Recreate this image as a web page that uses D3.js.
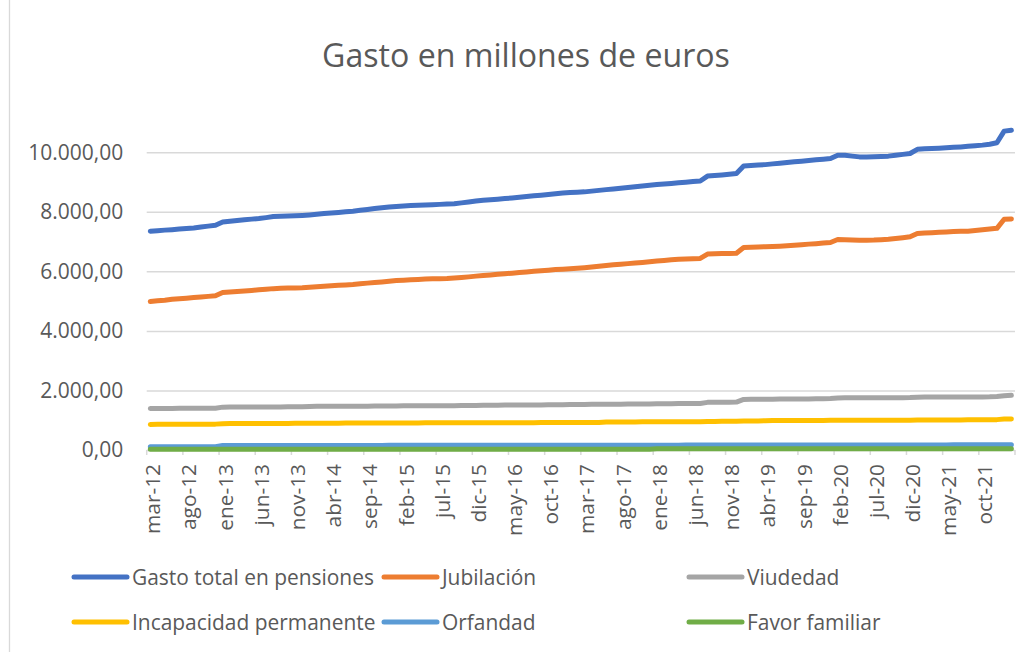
<!DOCTYPE html>
<html>
<head>
<meta charset="utf-8">
<script src="https://cdn.jsdelivr.net/npm/d3@7"></script>
<style>
  body { margin: 0; background: #fff; }
  text { font-family: "Open Sans", sans-serif; fill: #595959; }
</style>
</head>
<body>
<script>
// month names and categories (mar-12 .. feb-22)
const meses = ["ene", "feb", "mar", "abr", "may", "jun", "jul", "ago", "sep", "oct", "nov", "dic"];
const categorias = [];
for (let k = 2; k < 122; k++) categorias.push(meses[k % 12] + "-" + (12 + Math.floor(k / 12)));

const yTicks = [0, 2000, 4000, 6000, 8000, 10000];

// monthly spend, millions of euros (rows: 2012 from mar, then 2013..2021, then 2022)
const gastoTotal = [
  7350, 7365, 7385, 7400, 7420, 7440, 7460, 7490, 7520, 7550,
  7660, 7685, 7710, 7730, 7755, 7775, 7805, 7840, 7850, 7860, 7870, 7880,
  7895, 7915, 7940, 7960, 7980, 8000, 8020, 8050, 8080, 8110, 8140, 8160,
  8180, 8195, 8210, 8220, 8230, 8240, 8250, 8260, 8270, 8300, 8330, 8360,
  8385, 8405, 8425, 8445, 8465, 8490, 8515, 8540, 8560, 8585, 8610, 8630,
  8645, 8655, 8670, 8695, 8720, 8745, 8770, 8795, 8820, 8845, 8870, 8890,
  8915, 8935, 8955, 8975, 8995, 9015, 9035, 9200, 9220, 9240, 9260, 9285,
  9540, 9555, 9570, 9585, 9610, 9630, 9655, 9680, 9700, 9725, 9745, 9765,
  9790, 9900, 9900, 9870, 9845, 9845, 9850, 9860, 9870, 9900, 9930, 9960,
  10100, 10115, 10125, 10135, 10150, 10165, 10180, 10200, 10220, 10240, 10270, 10320,
  10710, 10740
];
const jubilacion = [
  4990, 5010, 5030, 5060, 5080, 5100, 5120, 5140, 5160, 5180,
  5290, 5310, 5325, 5340, 5360, 5380, 5400, 5420, 5430, 5440, 5445, 5450,
  5465, 5480, 5500, 5515, 5530, 5545, 5560, 5585, 5605, 5625, 5645, 5670,
  5690, 5705, 5720, 5730, 5740, 5750, 5755, 5760, 5775, 5795, 5815, 5840,
  5860, 5880, 5900, 5920, 5940, 5960, 5980, 6000, 6020, 6040, 6060, 6075,
  6090, 6105, 6125, 6150, 6175, 6200, 6220, 6240, 6260, 6280, 6300, 6320,
  6345, 6365, 6390, 6405, 6415, 6425, 6435, 6580, 6590, 6600, 6600, 6610,
  6800, 6810, 6820, 6825, 6835, 6845, 6860, 6875, 6895, 6915, 6930, 6950,
  6970, 7070, 7065, 7055, 7045, 7045, 7050, 7065, 7080, 7105, 7130, 7160,
  7270, 7285, 7300, 7315, 7325, 7335, 7345, 7350, 7370, 7395, 7420, 7445,
  7750, 7760
];
const viudedad = [
  1395, 1396, 1397, 1398, 1399, 1400, 1401, 1402, 1403, 1405,
  1440, 1441, 1442, 1443, 1444, 1445, 1446, 1447, 1448, 1449, 1450, 1451,
  1465, 1466, 1467, 1468, 1469, 1470, 1471, 1472, 1473, 1474, 1475, 1476,
  1482, 1483, 1484, 1485, 1486, 1487, 1488, 1489, 1490, 1492, 1494, 1496,
  1505, 1506, 1507, 1508, 1509, 1510, 1511, 1512, 1514, 1516, 1518, 1520,
  1530, 1531, 1532, 1533, 1535, 1537, 1539, 1540, 1541, 1542, 1543, 1545,
  1555, 1556, 1557, 1558, 1560, 1562, 1565, 1600, 1602, 1604, 1606, 1610,
  1700, 1702, 1704, 1706, 1708, 1710, 1712, 1714, 1715, 1716, 1718, 1720,
  1730, 1750, 1751, 1752, 1753, 1754, 1755, 1756, 1757, 1758, 1759, 1760,
  1775, 1776, 1777, 1778, 1779, 1780, 1781, 1782, 1783, 1784, 1785, 1795,
  1820, 1835
];
const incapacidad = [
  860, 861, 862, 863, 864, 865, 866, 867, 868, 869,
  885, 886, 887, 888, 889, 890, 891, 892, 893, 894, 895, 896,
  898, 899, 900, 901, 902, 903, 904, 905, 906, 907, 908, 909,
  910, 910, 911, 911, 912, 912, 913, 913, 914, 914, 915, 915,
  916, 916, 917, 917, 918, 918, 919, 919, 920, 920, 921, 921,
  922, 923, 924, 925, 926, 940, 941, 942, 943, 944, 945, 945,
  946, 946, 947, 947, 948, 949, 950, 960, 961, 962, 962, 963,
  975, 977, 978, 980, 990, 991, 992, 992, 993, 993, 994, 995,
  996, 998, 998, 998, 999, 999, 1000, 1000, 1001, 1001, 1002, 1002,
  1005, 1006, 1007, 1008, 1009, 1010, 1011, 1012, 1013, 1014, 1015, 1020,
  1040, 1045
];
const orfandad = [
  108, 108, 109, 109, 110, 110, 111, 111, 112, 112,
  148, 148, 149, 149, 150, 150, 150, 151, 151, 151, 152, 152,
  153, 153, 153, 154, 154, 154, 154, 155, 155, 155, 155, 156,
  156, 156, 156, 157, 157, 157, 157, 158, 158, 158, 158, 158,
  159, 159, 159, 159, 159, 160, 160, 160, 160, 160, 160, 161,
  161, 161, 161, 161, 162, 162, 162, 162, 162, 162, 163, 163,
  163, 163, 163, 163, 164, 164, 164, 165, 165, 165, 165, 165,
  167, 167, 167, 167, 167, 168, 168, 168, 168, 168, 168, 168,
  169, 170, 170, 170, 170, 170, 170, 170, 171, 171, 171, 171,
  172, 172, 172, 172, 172, 173, 173, 173, 173, 173, 173, 174,
  176, 176
];
const favorFamiliar = [
  22, 22, 22, 22, 22, 22, 23, 23, 23, 23,
  24, 24, 24, 24, 24, 24, 24, 25, 25, 25, 25, 25,
  25, 25, 25, 26, 26, 26, 26, 26, 26, 26, 26, 26,
  26, 26, 27, 27, 27, 27, 27, 27, 27, 27, 27, 27,
  27, 28, 28, 28, 28, 28, 28, 28, 28, 28, 28, 28,
  28, 28, 29, 29, 29, 29, 29, 29, 29, 29, 29, 29,
  38, 38, 38, 38, 39, 39, 39, 39, 39, 39, 39, 39,
  40, 40, 40, 40, 40, 40, 40, 40, 40, 40, 40, 40,
  41, 41, 41, 41, 41, 41, 41, 41, 41, 41, 41, 41,
  42, 42, 42, 42, 42, 42, 42, 42, 42, 42, 42, 42,
  43, 43
];

const series = [
  { name: "Gasto total en pensiones", values: gastoTotal, color: "#4472C4" },
  { name: "Jubilación", values: jubilacion, color: "#ED7D31" },
  { name: "Viudedad", values: viudedad, color: "#A5A5A5" },
  { name: "Incapacidad permanente", values: incapacidad, color: "#FFC000" },
  { name: "Orfandad", values: orfandad, color: "#5B9BD5" },
  { name: "Favor familiar", values: favorFamiliar, color: "#70AD47" }
];

const W = 1035, H = 652;
const plotLeft = 146.7, plotRight = 1015, plotBottom = 450, plotTop = 122.5;

const svg = d3.select("body").append("svg")
  .attr("width", W)
  .attr("height", H);

// thin frame edge on the left
svg.append("line")
  .attr("x1", 9.5).attr("x2", 9.5).attr("y1", 0).attr("y2", H)
  .attr("stroke", "#d9d9d9").attr("stroke-width", 1.3);

// scale a group of texts so that a sample string gets a target width
function fitFont(sel, sample, target) {
  const probe = svg.append("text").style("font-size", "20px").text(sample);
  const w = probe.node().getComputedTextLength();
  probe.remove();
  sel.style("font-size", (20 * target / w).toFixed(2) + "px");
}

const x = d3.scaleBand().domain(categorias).range([plotLeft, plotRight]);
const y = d3.scaleLinear().domain([0, 11000]).range([plotBottom, plotTop]);
const cx = d => x(d) + x.bandwidth() / 2;

const es = d3.formatLocale({ decimal: ",", thousands: ".", grouping: [3], currency: ["", " €"] });
const fmt = es.format(",.2f");

// title
const title = svg.append("text")
  .attr("x", 526).attr("y", 54)
  .attr("text-anchor", "middle")
  .attr("dominant-baseline", "central")
  .text("Gasto en millones de euros");
fitFont(title, "Gasto en millones de euros", 408);

// y axis with gridlines
const yAxis = svg.append("g")
  .attr("transform", `translate(${plotLeft},0)`)
  .call(d3.axisLeft(y).tickValues(yTicks).tickSize(-(plotRight - plotLeft)).tickPadding(23.5).tickFormat(fmt));
yAxis.select(".domain").remove();
yAxis.selectAll("line").attr("stroke", "#d9d9d9").attr("stroke-width", 1.5);
yAxis.selectAll("text").attr("fill", "#595959").attr("font-family", null);
fitFont(yAxis.selectAll("text"), "10.000,00", 95);

// x tick marks at category boundaries, every 5 months
const tickCats = categorias.filter((d, i) => i % 5 === 0);
const tickPos = tickCats.map(d => x(d)).concat([plotRight]);
svg.append("g").selectAll("line")
  .data(tickPos)
  .join("line")
  .attr("x1", d => d).attr("x2", d => d)
  .attr("y1", plotBottom).attr("y2", plotBottom + 5)
  .attr("stroke", "#d9d9d9").attr("stroke-width", 1.5);

const xLabels = svg.append("g").selectAll("text")
  .data(tickCats)
  .join("text")
  .attr("transform", d => `translate(${cx(d) + 2},464) rotate(-90)`)
  .attr("text-anchor", "end")
  .attr("dominant-baseline", "central")
  .text(d => d);
fitFont(xLabels, "mar-12", 70);

// lines
const line = d3.line()
  .x((d, i) => cx(categorias[i]))
  .y(d => y(d));

svg.append("g").selectAll("path")
  .data(series)
  .join("path")
  .attr("d", d => line(d.values))
  .attr("fill", "none")
  .attr("stroke", d => d.color)
  .attr("stroke-width", 5)
  .attr("stroke-linejoin", "round")
  .attr("stroke-linecap", "round");

// legend, 3 columns x 2 rows
const legX = [74, 384, 689];
const legY = [577, 622];
const leg = svg.append("g").selectAll("g")
  .data(series)
  .join("g")
  .attr("transform", (d, i) => `translate(${legX[i % 3]},${legY[Math.floor(i / 3)]})`);
leg.append("line")
  .attr("x1", 0).attr("x2", 53)
  .attr("stroke", d => d.color)
  .attr("stroke-width", 5)
  .attr("stroke-linecap", "round");
const legText = leg.append("text")
  .attr("x", 58)
  .attr("dominant-baseline", "central")
  .text(d => d.name);
fitFont(legText, "Gasto total en pensiones", 242);
</script>
</body>
</html>
